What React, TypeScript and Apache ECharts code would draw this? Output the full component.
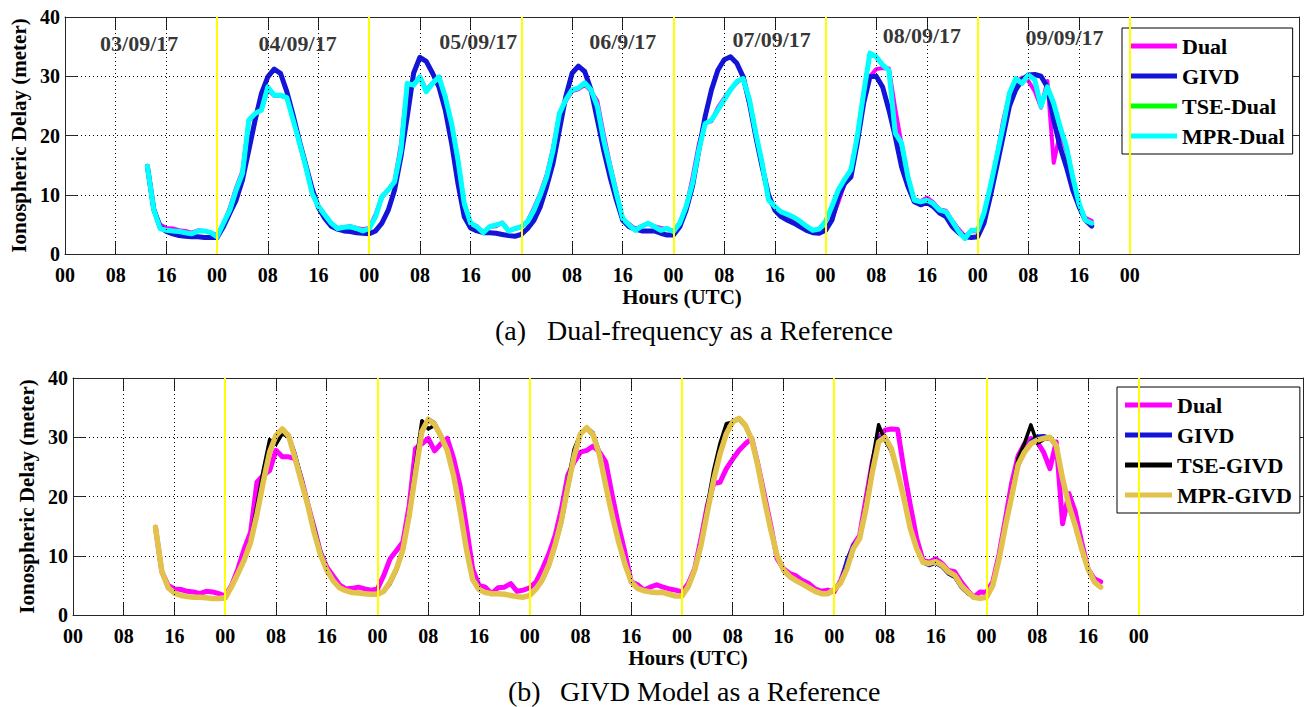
import React, { useEffect, useRef } from 'react';
import * as echarts from 'echarts';

// ---------------- data ----------------
const START_HOUR = 13; // first sample: 03/09/17 13:00 UTC, hourly samples

const TICK_HOURS = [0, 8, 16, 24, 32, 40, 48, 56, 64, 72, 80, 88, 96, 104, 112, 120, 128, 136, 144, 152, 160, 168];
const TICK_LABELS = ['00', '08', '16', '00', '08', '16', '00', '08', '16', '00', '08', '16', '00', '08', '16', '00', '08', '16', '00', '08', '16', '00'];
const DAY_BOUNDARIES = [24, 48, 72, 96, 120, 144, 168];

const DATE_LABELS = ['03/09/17', '04/09/17', '05/09/17', '06/9/17', '07/09/17', '08/09/17', '09/09/17'];
const DATE_LABEL_HOURS = [11.7, 36.7, 65.2, 88, 111.5, 135.2, 157.7];
const DATE_LABEL_LEVELS = [35.6, 35.6, 35.8, 35.9, 36.2, 36.8, 36.5];

const Y_TICKS_MIN = 0;
const Y_TICKS_MAX = 40;
const Y_TICKS_STEP = 10;

// Dual-frequency ionospheric delay (m)
const dual = [
  14.8, 7.3, 5.0, 4.4, 4.3, 4.0, 3.9, 3.6, 4.0, 3.9, 3.6, 3.2,
  5.0, 7.8, 11.2, 14.0, 22.4, 23.6, 24.4, 27.8, 26.7, 26.7, 26.4, 23.0, 18.8, 14.8, 10.6, 8.1, 6.6, 5.1, 4.4, 4.5, 4.7, 4.4, 4.2, 4.4,
  6.7, 9.5, 10.9, 12.3, 18.5, 28.1, 28.9, 29.8, 27.7, 28.9, 29.8, 26.4, 21.9, 15.1, 7.8, 5.0, 4.7, 3.6, 4.6, 4.7, 5.3, 4.0, 4.2, 4.6,
  5.6, 7.8, 10.3, 13.4, 17.9, 23.6, 25.8, 27.5, 27.8, 28.5, 27.5, 25.8, 20.2, 15.1, 10.6, 5.6, 5.1, 4.2, 4.7, 5.1, 4.7, 4.4, 4.2, 3.9,
  5.3, 7.8, 12.9, 18.5, 22.2, 22.4, 24.7, 26.3, 27.8, 28.9, 29.8, 25.3, 20.2, 15.1, 9.5, 7.8, 7.0, 6.6, 5.8, 5.3, 4.4, 4.0, 4.2, 3.9,
  5.8, 8.7, 11.8, 13.4, 19.6, 25.8, 30.0, 31.2, 31.4, 31.3, 24.5, 18.5, 12.9, 9.2, 8.9, 9.5, 8.7, 7.5, 7.3, 5.6, 4.2, 3.0, 3.9, 3.8,
  5.6, 10.3, 16.3, 22.4, 26.9, 28.9, 29.8, 29.2, 27.5, 24.7, 29.2, 15.4, 20.5, 17.4, 12.3, 7.8, 6.1, 5.6,
];

// GIVD model (m)
const givd = [
  14.8, 7.6, 4.6, 3.8, 3.4, 3.1, 3.0, 2.9, 2.9, 2.8, 2.8, 2.8,
  4.6, 6.9, 9.1, 12.5, 17.5, 22.6, 27.1, 29.9, 31.2, 30.5, 27.4, 23.4, 19.0, 15.0, 11.0, 7.8, 6.0, 4.7, 4.2, 3.9, 3.8, 3.6, 3.5, 3.4,
  3.9, 5.2, 7.4, 10.8, 16.4, 23.2, 30.5, 33.2, 32.5, 30.5, 28.2, 24.3, 18.7, 11.9, 6.3, 4.4, 3.9, 3.6, 3.6, 3.5, 3.3, 3.1, 3.0, 3.3,
  4.3, 5.7, 8.0, 11.4, 15.3, 20.9, 26.5, 30.5, 31.7, 30.8, 27.7, 22.6, 17.5, 13.0, 9.1, 5.7, 4.6, 4.2, 3.9, 3.9, 3.9, 3.5, 3.2, 3.2,
  4.6, 7.4, 11.4, 17.5, 23.2, 27.7, 31.0, 32.8, 33.3, 32.2, 29.9, 25.4, 19.8, 14.7, 10.0, 7.4, 6.3, 5.7, 5.2, 4.6, 4.0, 3.6, 3.5, 4.0,
  5.7, 9.5, 11.9, 13.0, 18.7, 25.4, 29.9, 30.0, 28.2, 24.3, 19.8, 14.7, 11.4, 8.8, 8.3, 8.7, 8.0, 6.9, 6.3, 4.6, 3.6, 2.9, 2.8, 2.9,
  5.2, 9.7, 14.7, 19.8, 24.9, 27.7, 29.4, 30.2, 30.3, 30.0, 28.2, 22.6, 18.1, 14.7, 10.8, 8.0, 5.7, 4.7,
];

// TSE corrected, Dual as reference (m)
const tseDual = [
  14.8, 7.5, 4.3, 4.0, 3.9, 3.8, 3.6, 3.4, 3.9, 3.9, 3.6, 2.9,
  5.2, 7.4, 10.8, 13.6, 22.5, 23.7, 24.3, 28.1, 26.8, 26.8, 26.4, 22.6, 18.7, 14.7, 10.2, 8.0, 6.6, 5.2, 4.3, 4.5, 4.6, 4.3, 3.9, 4.3,
  6.3, 9.7, 10.8, 12.2, 17.6, 28.7, 28.5, 29.9, 27.4, 28.8, 29.8, 26.5, 22.0, 15.9, 8.5, 5.2, 4.6, 3.6, 4.6, 4.9, 5.2, 3.9, 4.3, 4.6,
  5.5, 7.4, 10.0, 13.0, 17.5, 23.7, 26.0, 27.7, 28.0, 28.7, 27.7, 24.9, 19.2, 14.7, 10.2, 6.0, 4.9, 4.0, 4.7, 5.2, 4.6, 4.0, 4.3, 3.8,
  5.2, 8.0, 11.9, 17.5, 22.0, 22.6, 24.3, 26.0, 27.7, 29.1, 29.6, 26.0, 20.4, 15.3, 9.1, 8.0, 7.1, 6.7, 6.2, 5.5, 4.7, 4.0, 4.2, 5.5,
  8.0, 10.8, 12.6, 14.2, 19.8, 27.1, 33.8, 33.3, 31.9, 31.0, 20.4, 18.7, 13.0, 9.1, 8.8, 9.1, 8.5, 7.4, 7.1, 5.5, 3.8, 2.6, 4.0, 4.0,
  6.9, 11.4, 16.4, 21.5, 27.1, 29.6, 28.8, 30.2, 29.4, 24.9, 28.2, 25.4, 21.5, 18.1, 13.0, 8.5, 5.7, 5.2,
];

// MPR corrected, Dual as reference (m)
const mprDual = [
  14.8, 7.5, 4.3, 4.0, 3.9, 3.8, 3.6, 3.4, 3.9, 3.9, 3.6, 2.9,
  5.2, 7.4, 10.8, 13.6, 22.6, 23.7, 24.3, 28.2, 26.8, 26.8, 26.4, 22.6, 18.7, 14.7, 10.2, 8.0, 6.6, 5.2, 4.3, 4.5, 4.6, 4.3, 3.9, 4.3,
  6.3, 9.7, 10.8, 12.2, 17.5, 28.8, 28.5, 29.9, 27.4, 28.8, 29.9, 26.5, 22.0, 15.9, 8.5, 5.2, 4.6, 3.6, 4.6, 4.9, 5.2, 3.9, 4.3, 4.6,
  5.5, 7.4, 10.0, 13.0, 17.5, 23.7, 26.0, 27.7, 28.0, 28.9, 27.7, 24.9, 19.2, 14.7, 10.2, 6.0, 4.9, 4.0, 4.7, 5.2, 4.6, 4.0, 4.3, 3.8,
  5.2, 8.0, 11.9, 17.5, 22.0, 22.6, 24.3, 26.0, 27.7, 29.1, 29.6, 26.0, 20.4, 15.3, 9.1, 8.0, 7.1, 6.7, 6.2, 5.5, 4.7, 4.0, 4.2, 5.5,
  8.0, 10.8, 12.6, 14.2, 19.8, 27.1, 33.9, 33.3, 31.9, 31.0, 20.4, 18.7, 13.0, 9.1, 8.8, 9.1, 8.5, 7.4, 7.1, 5.5, 3.8, 2.6, 4.0, 4.0,
  6.9, 11.4, 16.4, 21.5, 27.1, 29.6, 28.8, 30.2, 29.4, 24.9, 28.2, 25.4, 21.5, 18.1, 13.0, 8.5, 5.7, 5.2,
];

// TSE corrected, GIVD as reference (m)
const tseGivd = [
  14.8, 7.5, 4.5, 3.7, 3.3, 3.1, 3.0, 2.9, 2.9, 2.8, 2.8, 2.8,
  4.7, 7.0, 9.4, 12.8, 18.5, 24.5, 29.6, 28.8, 30.6, 30.0, 27.0, 23.0, 18.8, 14.6, 10.6, 7.6, 5.9, 4.7, 4.2, 3.9, 3.8, 3.6, 3.5, 3.4,
  4.0, 5.4, 7.6, 11.2, 17.5, 25.5, 32.8, 31.4, 32.0, 30.0, 27.8, 23.8, 18.2, 11.5, 6.2, 4.4, 3.9, 3.6, 3.6, 3.5, 3.3, 3.1, 3.0, 3.3,
  4.4, 5.9, 8.4, 12.0, 16.5, 22.5, 28.0, 30.6, 31.5, 30.2, 27.0, 22.0, 17.0, 12.6, 8.8, 5.7, 4.6, 4.2, 3.9, 3.9, 3.9, 3.5, 3.2, 3.2,
  4.8, 7.8, 12.2, 18.5, 24.5, 29.0, 32.3, 32.6, 33.0, 31.8, 29.4, 25.0, 19.5, 14.5, 10.0, 7.5, 6.4, 5.7, 5.2, 4.6, 4.0, 3.6, 3.5, 4.2,
  5.6, 8.2, 11.4, 13.0, 18.8, 26.0, 32.1, 29.5, 27.6, 24.0, 19.5, 14.5, 11.2, 8.8, 8.5, 8.8, 8.2, 7.0, 6.4, 4.8, 3.7, 3.0, 2.8, 3.0,
  5.2, 9.8, 15.5, 21.0, 26.5, 29.0, 32.1, 29.0, 29.6, 29.8, 28.4, 23.0, 18.4, 15.0, 11.0, 7.8, 5.6, 4.7,
];

// MPR corrected, GIVD as reference (m)
const mprGivd = [
  14.8, 7.4, 4.6, 3.7, 3.3, 3.1, 3.0, 3.0, 2.9, 2.8, 2.8, 2.9,
  4.8, 7.0, 9.3, 12.3, 17.0, 22.5, 27.5, 30.3, 31.4, 30.2, 26.5, 22.5, 18.6, 14.0, 10.2, 7.6, 5.8, 4.6, 4.1, 3.8, 3.7, 3.6, 3.5, 3.5,
  4.0, 5.6, 7.8, 11.0, 16.8, 24.0, 31.0, 33.0, 32.2, 30.2, 27.8, 23.5, 17.8, 11.2, 6.0, 4.3, 3.8, 3.6, 3.6, 3.5, 3.3, 3.1, 3.0, 3.3,
  4.4, 6.0, 8.4, 11.8, 16.0, 21.6, 26.8, 30.6, 31.6, 30.4, 27.0, 21.8, 16.8, 12.4, 8.6, 5.6, 4.5, 4.1, 3.9, 3.8, 3.8, 3.5, 3.2, 3.2,
  4.8, 7.6, 11.8, 17.4, 22.8, 27.2, 30.6, 32.6, 33.2, 32.0, 29.6, 25.0, 19.4, 14.4, 10.0, 7.6, 6.5, 5.8, 5.2, 4.6, 4.0, 3.6, 3.6, 4.3,
  5.4, 7.8, 11.2, 12.9, 17.9, 24.1, 29.2, 30.0, 28.1, 24.1, 19.6, 14.6, 11.2, 8.9, 8.7, 9.0, 8.4, 7.3, 6.7, 5.0, 3.9, 3.0, 2.8, 3.0,
  5.0, 9.5, 15.1, 20.2, 25.4, 27.5, 28.9, 29.5, 29.8, 30.0, 28.6, 23.0, 18.5, 15.1, 11.2, 7.8, 5.6, 4.7,
];

// ---------------- styling ----------------
const SERIF = 'Liberation Serif';
const FRAME = '#262626';
const C_DUAL = '#FF00FF';
const C_GIVD = '#1414D8';
const C_TSE_DUAL = '#00FF00';
const C_MPR_DUAL = '#00FFFF';
const C_TSE_GIVD = '#000000';
const C_MPR_GIVD = '#E3C24C';

const toPairs = (vals: number[]) => vals.map((v, i) => [START_HOUR + i, v]);

const tickLabel = (v: number) => {
  const i = TICK_HOURS.indexOf(Math.round(v));
  return i >= 0 ? TICK_LABELS[i] : '';
};

const boldText = (size: number) => ({
  fontFamily: SERIF,
  fontWeight: 'bold' as const,
  fontSize: size,
  color: '#000',
});

function xAxes(gridIndex: number, max: number) {
  const lineStyle = { color: FRAME, width: 1 };
  return [
    {
      type: 'value',
      gridIndex,
      min: 0,
      max,
      position: 'bottom',
      axisLine: { show: true, onZero: false, lineStyle },
      axisTick: { show: true, inside: true, length: 12, customValues: TICK_HOURS, lineStyle },
      axisLabel: { show: true, customValues: TICK_HOURS, formatter: tickLabel, margin: 11, ...boldText(20) },
      splitLine: { show: false },
      name: 'Hours (UTC)',
      nameLocation: 'middle',
      nameGap: 32,
      nameTextStyle: boldText(21),
    },
    {
      type: 'value',
      gridIndex,
      min: 0,
      max,
      position: 'top',
      axisLine: { show: true, onZero: false, lineStyle },
      axisTick: { show: true, inside: true, length: 12, customValues: TICK_HOURS, lineStyle },
      axisLabel: { show: false },
      splitLine: { show: false },
    },
  ];
}

function yAxes(gridIndex: number) {
  const lineStyle = { color: FRAME, width: 1 };
  return [
    {
      type: 'value',
      gridIndex,
      min: Y_TICKS_MIN,
      max: Y_TICKS_MAX,
      interval: Y_TICKS_STEP,
      position: 'left',
      axisLine: { show: true, onZero: false, lineStyle },
      axisTick: { show: true, inside: true, length: 12, lineStyle },
      axisLabel: { show: true, margin: 5, ...boldText(20) },
      splitLine: { show: true, lineStyle: { type: [1, 3], color: '#000', width: 1 } },
      name: 'Ionospheric Delay (meter)',
      nameLocation: 'middle',
      nameGap: 36,
      nameTextStyle: boldText(21),
    },
    {
      type: 'value',
      gridIndex,
      min: Y_TICKS_MIN,
      max: Y_TICKS_MAX,
      interval: Y_TICKS_STEP,
      position: 'right',
      axisLine: { show: true, onZero: false, lineStyle },
      axisTick: { show: true, inside: true, length: 12, lineStyle },
      axisLabel: { show: false },
      splitLine: { show: false },
    },
  ];
}

function guideSeries(xAxisIndex: number, yAxisIndex: number) {
  return {
    type: 'line',
    name: '__guides' + xAxisIndex,
    xAxisIndex,
    yAxisIndex,
    data: [],
    silent: true,
    markLine: {
      silent: true,
      symbol: ['none', 'none'],
      label: { show: false },
      animation: false,
      data: [
        ...TICK_HOURS.filter((h) => h > 0).map((h) => ({
          xAxis: h,
          lineStyle: { type: [1, 3], color: '#000', width: 1 },
        })),
        ...DAY_BOUNDARIES.map((h) => ({
          xAxis: h,
          lineStyle: { type: 'solid', color: '#FFFF00', width: 2 },
        })),
      ],
    },
  };
}

function lineSeries(name: string, values: number[], color: string, width: number, xAxisIndex: number, yAxisIndex: number) {
  return {
    type: 'line',
    name,
    xAxisIndex,
    yAxisIndex,
    data: toPairs(values),
    showSymbol: false,
    symbol: 'none',
    color,
    itemStyle: { color },
    lineStyle: { color, width, join: 'round', cap: 'round' },
    silent: true,
  };
}

function legendBox(names: string[], left: number, top: number) {
  return {
    data: names,
    orient: 'vertical',
    left,
    top,
    padding: [7, 8, 7, 8],
    itemGap: 8,
    itemWidth: 47,
    itemHeight: 5,
    icon: 'rect',
    backgroundColor: '#fff',
    borderColor: '#000',
    borderWidth: 1,
    borderRadius: 0,
    selectedMode: false,
    textStyle: boldText(22),
  };
}

const option = {
  animation: false,
  backgroundColor: '#fff',
  grid: [
    { left: 65, top: 17, width: 1234, height: 237 },
    { left: 73, top: 378, width: 1230, height: 237 },
  ],
  xAxis: [...xAxes(0, 194.7), ...xAxes(1, 193.9)],
  yAxis: [...yAxes(0), ...yAxes(1)],
  legend: [
    legendBox(['Dual', 'GIVD', 'TSE-Dual', 'MPR-Dual'], 1122, 28),
    legendBox(['Dual', 'GIVD', 'TSE-GIVD', 'MPR-GIVD'], 1117, 387),
  ],
  series: [
    guideSeries(0, 0),
    lineSeries('Dual', dual, C_DUAL, 4, 0, 0),
    lineSeries('GIVD', givd, C_GIVD, 5, 0, 0),
    lineSeries('TSE-Dual', tseDual, C_TSE_DUAL, 4, 0, 0),
    lineSeries('MPR-Dual', mprDual, C_MPR_DUAL, 5, 0, 0),
    {
      type: 'scatter',
      name: '__dates',
      xAxisIndex: 0,
      yAxisIndex: 0,
      symbolSize: 1,
      itemStyle: { color: 'rgba(0,0,0,0)' },
      silent: true,
      label: { show: true, position: 'inside', formatter: '{b}', ...boldText(22) },
      data: DATE_LABELS.map((name, i) => ({ name, value: [DATE_LABEL_HOURS[i], DATE_LABEL_LEVELS[i]] })),
    },
    guideSeries(2, 2),
    lineSeries('Dual', dual, C_DUAL, 5, 2, 2),
    lineSeries('GIVD', givd, C_GIVD, 3, 2, 2),
    lineSeries('TSE-GIVD', tseGivd, C_TSE_GIVD, 3.5, 2, 2),
    lineSeries('MPR-GIVD', mprGivd, C_MPR_GIVD, 5.5, 2, 2),
  ],
  graphic: [
    { type: 'text', left: 495, top: 316, style: { text: '(a)', font: `28px ${SERIF}`, fill: '#000' } },
    { type: 'text', left: 547, top: 316, style: { text: 'Dual-frequency as a Reference', font: `28px ${SERIF}`, fill: '#000' } },
    { type: 'text', left: 508, top: 677, style: { text: '(b)', font: `28px ${SERIF}`, fill: '#000' } },
    { type: 'text', left: 560, top: 677, style: { text: 'GIVD Model as a Reference', font: `28px ${SERIF}`, fill: '#000' } },
  ],
};

export default function App() {
  const ref = useRef<HTMLDivElement>(null);
  useEffect(() => {
    if (!ref.current) return;
    const chart = echarts.init(ref.current, null, { renderer: 'svg' });
    chart.setOption(option as any);
    return () => chart.dispose();
  }, []);
  return (
    <div
      ref={ref}
      style={{ position: 'fixed', left: 0, top: 0, width: 1304, height: 707, background: '#fff' }}
    />
  );
}
